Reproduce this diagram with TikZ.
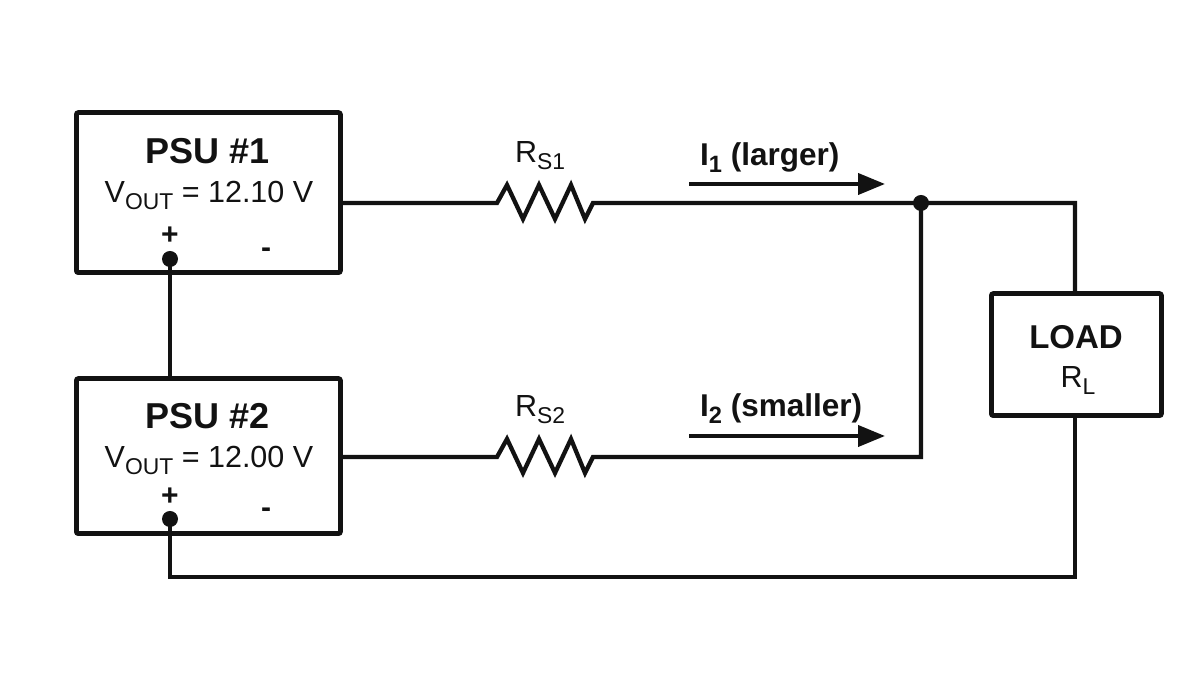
\documentclass[tikz,border=0pt]{standalone}
\usepackage{fontspec}
\setmainfont{Liberation Sans}
\usetikzlibrary{arrows.meta}
\definecolor{ink}{gray}{0.07}
\newcommand{\subs}[1]{\raisebox{-0.22em}{\scalebox{0.75}{#1}}}
\tikzset{
  wire/.style={line width=4.3pt,draw=ink,line join=miter},
  boxx/.style={draw=ink,line width=4.8pt,rounded corners=2pt,fill=white,inner sep=0},
  ttl/.style={text=ink,font=\bfseries\fontsize{36}{38}\selectfont,inner sep=0,anchor=base},
  lbl/.style={text=ink,font=\fontsize{30.5}{34}\selectfont,inner sep=0,anchor=base},
  sgn/.style={text=ink,font=\bfseries\fontsize{30}{34}\selectfont,inner sep=0,anchor=base},
  cur/.style={text=ink,font=\bfseries\fontsize{31.5}{34}\selectfont,inner sep=0,anchor=base west},
  dotn/.style={circle,fill=ink,inner sep=0,minimum size=16pt},
  curr/.style={draw=ink,line width=4pt,-{Triangle[length=27pt,width=21pt]}}
}
\begin{document}
\begin{tikzpicture}[x=1pt,y=1pt]
\useasboundingbox (0,0) rectangle (1200,700);
\fill[white] (0,0) rectangle (1200,700);
\coordinate (j) at (921,497);
\coordinate (lt) at (1075,497);
\coordinate (lb) at (1075,123);
\coordinate (bl) at (170,123);
\coordinate (a1s) at (689,516);
\coordinate (a1e) at (885,516);
\coordinate (a2s) at (689,264);
\coordinate (a2e) at (885,264);
\coordinate (c2) at (921,243);
\node[boxx,minimum width=264pt,minimum height=160pt,anchor=south west] (psu1) at (74,425) {};
\node[boxx,minimum width=264pt,minimum height=155pt,anchor=south west] (psu2) at (74,164) {};
\node[boxx,minimum width=170pt,minimum height=122pt,anchor=south west] (load) at (989,282) {};
\node[ttl] (t1) at (208,536) {PSU \#1};
\node[lbl] (v1) at (209,497) {V\subs{OUT} = 12.10 V};
\node[sgn] (p1) at (170,455) {+};
\node[sgn] (m1) at (266,442) {-};
\node[ttl] (t2) at (208,271) {PSU \#2};
\node[lbl] (v2) at (209,232) {V\subs{OUT} = 12.00 V};
\node[sgn] (p2) at (170,194) {+};
\node[sgn] (m2) at (266,182) {-};
\node[font=\bfseries\fontsize{33}{36}\selectfont,text=ink,inner sep=0,anchor=base] (t3) at (1076,351) {LOAD};
\node[lbl] (rl) at (1078,312) {R\subs{L}};
\node[lbl] (rs1) at (540,537) {R\subs{S1}};
\node[lbl] (rs2) at (540,283) {R\subs{S2}};
\node[cur] (i1) at (700,534) {I\subs{1} (larger)};
\node[cur] (i2) at (700,283) {I\subs{2} (smaller)};
\draw[wire] (psu1.east |- 0,497) -- (497,497) -- (507,515) -- (523,481) -- (539,515) -- (555,481) -- (571,515) -- (585,481) -- (593,497) -- (j) -- (lt) -- (lt |- load.north);
\draw[wire] (psu2.east |- 0,243) -- (497,243) -- (507,261) -- (523,227) -- (539,261) -- (555,227) -- (571,261) -- (585,227) -- (593,243) -- (c2) -- (j);
\node[dotn] (d1) at (170,441) {};
\node[dotn] (d2) at (170,181) {};
\node[dotn] (dj) at (j) {};
\draw[wire] (d1.center) -- (d1.center |- psu2.north);
\draw[wire] (d2.center) -- (bl) -- (lb) -- (lb |- load.south);
\draw[curr] (a1s) -- (a1e);
\draw[curr] (a2s) -- (a2e);
\end{tikzpicture}
\end{document}
